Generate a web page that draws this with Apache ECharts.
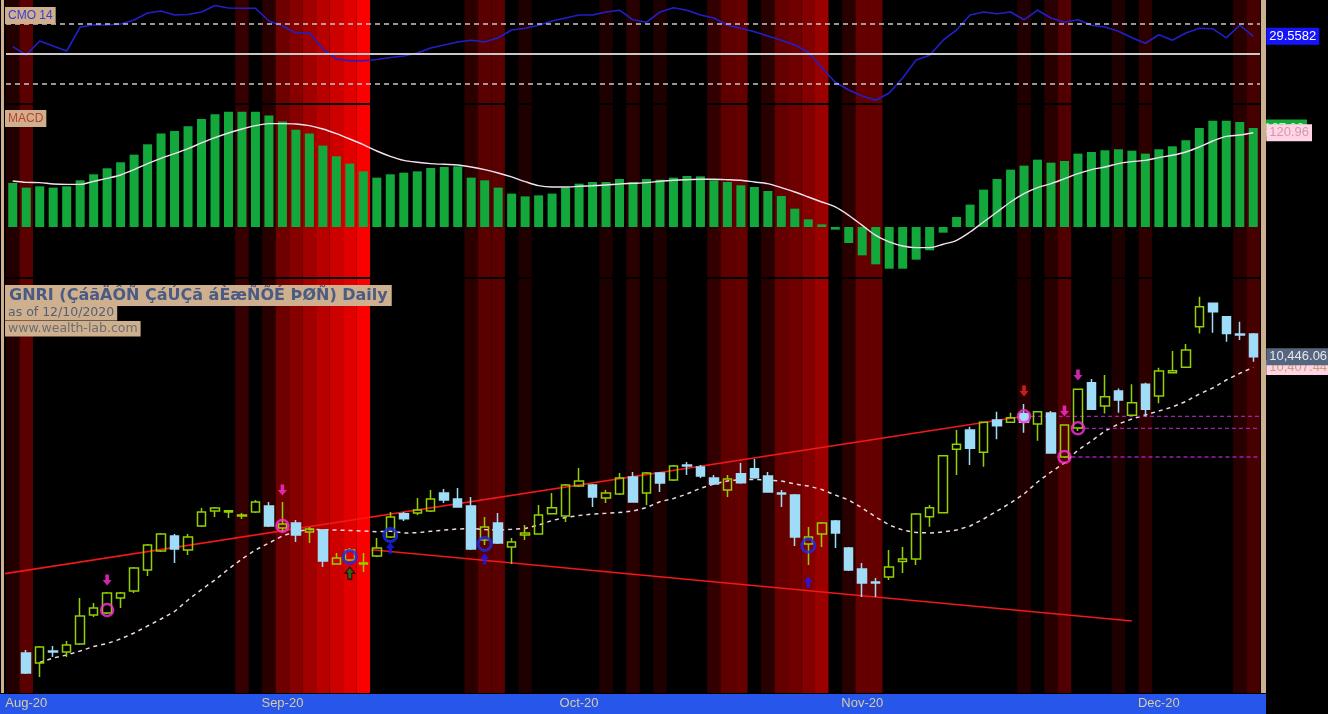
<!DOCTYPE html>
<html><head><meta charset="utf-8">
<script src="https://cdn.jsdelivr.net/npm/echarts@6/dist/echarts.min.js"></script>
<style>html,body{margin:0;padding:0;background:#000;}#c{width:1328px;height:714px;}</style>
</head><body><div id="c"></div>
<script>
// ---------- DATA ----------
const dates = [
'2020-07-29','2020-08-05','2020-08-06','2020-08-09','2020-08-10','2020-08-11','2020-08-12','2020-08-13','2020-08-16','2020-08-17',
'2020-08-18','2020-08-19','2020-08-20','2020-08-23','2020-08-24','2020-08-25','2020-08-26','2020-08-27','2020-08-30','2020-08-31',
'2020-09-01','2020-09-02','2020-09-03','2020-09-06','2020-09-07','2020-09-08','2020-09-09','2020-09-10','2020-09-13','2020-09-14',
'2020-09-15','2020-09-16','2020-09-17','2020-09-20','2020-09-21','2020-09-22','2020-09-23','2020-09-24','2020-09-27','2020-09-28',
'2020-09-29','2020-09-30','2020-10-01','2020-10-04','2020-10-05','2020-10-06','2020-10-07','2020-10-08','2020-10-11','2020-10-12',
'2020-10-13','2020-10-14','2020-10-15','2020-10-18','2020-10-19','2020-10-20','2020-10-21','2020-10-22','2020-10-25','2020-10-26',
'2020-10-27','2020-10-28','2020-10-29','2020-11-01','2020-11-02','2020-11-03','2020-11-04','2020-11-05','2020-11-08','2020-11-09',
'2020-11-10','2020-11-11','2020-11-12','2020-11-15','2020-11-16','2020-11-17','2020-11-18','2020-11-19','2020-11-22','2020-11-23',
'2020-11-24','2020-11-25','2020-11-26','2020-11-29','2020-11-30','2020-12-01','2020-12-02','2020-12-03','2020-12-06','2020-12-07',
'2020-12-08','2020-12-09','2020-12-10'];
const monthTickLabels = {'07':'Jul-20','08':'Aug-20','09':'Sep-20','10':'Oct-20','11':'Nov-20','12':'Dec-20'};

const open = [null,9379.2,9343.2,9386.4,9382.8,9411.6,9516,9523.2,9577.2,9602.4,
9678,9746.4,9800.4,9750,9836.4,9890.4,9886.8,9872.4,9886.8,9908.4,
9829.2,9847.2,9815,9822,9699.6,9714,9699.6,9728.4,9797,9880.6,
9883.4,9890.4,9955.4,9933.6,9908.6,9786,9847.4,9761,9804,9807.8,
9880.6,9872.6,9980.6,9984.2,9937.4,9951.8,10013,9955.4,10027.4,10002.2,
10056.2,10049,10009.4,9966,10024.6,10042.6,10016.6,9955.4,9948.2,9771.8,
9808,9854.6,9757.4,9681.8,9635,9653,9708.8,9717.8,9870,9884.5,
10112.7,10182,10102,10218,10210,10242,10203.8,10243.4,10085,10189.4,
10352.5,10268.6,10322.6,10235,10346.7,10304.6,10388.5,10408,10554,10638.3,
10590,10527.8,10527.8];
const close = [null,9307.2,9400.8,9382.8,9408,9512.4,9541.2,9595.2,9595.2,9685.2,
9768,9807.6,9753.6,9796.8,9886.8,9901.2,9891.5,9876,9922.8,9836.4,
9843.6,9804,9826,9710.4,9721.2,9750,9703.2,9757.2,9869,9862.8,
9894.2,9933.6,9930.2,9905,9753.8,9833,9775.4,9779,9811.4,9876.2,
9902.4,9984.2,9998.6,9941,9955.4,10009.4,9923,10027.4,9991.4,10052.6,
10052.6,10016.6,9987.8,10005.6,9992.2,10010.2,9959,9951.8,9797,9797,
9847.4,9811.4,9678,9631.4,9631.4,9689,9717.8,9879.8,9902.5,10089.7,
10130.7,10116.3,10210,10197.5,10226.5,10210,10248,10099.4,10200,10328.7,
10256.7,10302,10290.2,10280.5,10256.7,10394.6,10395.7,10470,10626,10608,
10530,10524,10446.06];
const low = [null,9303.6,9292.8,9364.8,9364.8,9408,9508.8,9519.6,9541.2,9595.2,
9656.4,9742.8,9703.2,9732,9832.8,9868.8,9865.2,9861.6,9883.2,9832.8,
9815.2,9779,9775,9689,9699.6,9710.4,9671,9725,9793,9854.6,
9876.2,9887,9919.4,9903,9750,9768,9771.8,9699.8,9786,9806,
9878.8,9851,9977,9905,9919.4,9948.2,9921.2,9912.2,9959,9998.6,
10020.2,10009.4,9984.2,9941,9988.6,10006.6,9957.2,9905,9764.6,9696,
9761,9757.4,9674.6,9581,9581,9642,9667.4,9696.2,9834,9882.3,
10020,10056,10050,10148.7,10207.4,10172.5,10143.7,10097.6,10081.4,10178.6,
10254,10242,10244.5,10232.6,10230,10278.3,10386.3,10405.4,10530,10532.5,
10500,10506,10428];
const high = [null,9390,9404.4,9404.4,9422.4,9577.2,9559.2,9598.8,9598.8,9688.8,
9771.6,9811.2,9807.6,9807.6,9901.2,9904.8,9892,9883.2,9930,9922.8,
9922.8,9858,9833,9825.6,9739.2,9757.2,9739.2,9793.2,9887,9887,
9937.4,9966,9969.8,9973.4,9941,9869,9883.4,9793,9840,9912.2,
9955.4,9987.8,10045.4,9987.8,9966,10027.4,10031,10031,10031,10056.2,
10067,10056.2,10020.2,10020.2,10063.4,10077.8,10031,9966,9951.8,9833,
9851,9858.2,9761,9703.4,9649.4,9750,9761,9883.4,9912,10092,
10182,10194,10211,10248,10244.5,10275.8,10250.6,10250.6,10200,10331,
10365.8,10380,10332,10346.7,10352.5,10406.5,10466.6,10491.8,10662,10639.4,
10592,10572,10531];
const sma = [null,null,9345.2,9361.4,9372.2,9386.6,9402.8,9413.6,9430,9451.4,
9476.6,9501.8,9528.8,9570.2,9608,9642.2,9681.8,9717.8,9750.2,9775.4,
9800.6,9816.8,9824,9823.3,9822.2,9820.4,9818.6,9816.1,9817.9,9811.4,
9812.5,9817.5,9822.2,9825.8,9827.6,9824,9822.2,9824.7,9827.6,9840.2,
9856.4,9867.2,9874.4,9879.8,9882.3,9885.2,9890.6,9903.2,9924.1,9935.6,
9951.8,9972.3,9987.8,9998.6,10004,10004,10002.2,9998.6,9987.8,9980.6,
9968,9948.2,9930.2,9901.4,9869,9840.2,9822.2,9813.2,9811.4,9815,
9822.2,9836.6,9861.8,9890.6,9919.4,9951.8,9995,10031,10063.4,10110.2,
10142.6,10178.6,10203.8,10221.8,10236.2,10250.6,10265,10284.8,10311.8,10333.4,
10362.2,10386.3,10407.44];
const cmo = [12.2,-1.7,21.7,13.3,5,45,48.3,48.3,50,56.7,
68.3,71.7,65,65.8,70,80.8,76.7,76.2,76.2,55,
46.7,35,35.5,8.3,-8.3,-11.2,-11.2,-9.2,-5.8,-3.3,
1.7,10,15,20,23,20,27,40,43,48,
55,60,65,65,70,73,57,53,70,77,
73,65,60,48,43,37,30,23,15,3,
-23,-47,-60,-70,-77,-65,-40,-10,-2,23,
40,65,70,67,70,57,73,60,53,57,
48,45,38,27,18,32,23,35,43,42,
27,48,29.5582];
const macd = [56.5,50.5,52.2,50.5,52.2,59.9,67.6,75.3,83,92.8,
106.1,119.8,123.2,129.2,138.6,144.6,148,148,148,142.9,
135.2,124.9,119.8,104.4,90.7,81.3,71.4,63.3,67.6,69.7,
71.4,75.7,77,77.8,63.3,59.9,50.5,42.8,39.3,40.6,
42.8,50.5,55.6,57.7,57.7,61.6,57.7,61.6,60.7,63.3,
65.4,65,59.9,57.7,53.5,51.3,46.2,39.8,23.5,9.8,
3.4,-3.4,-20.5,-36.4,-47.9,-53.5,-53.5,-41.9,-29.9,-7.3,
12.8,28.7,47.9,61.6,73.6,78.7,86.4,82.5,84.7,94.1,
96.2,98.4,99.7,97.9,94.1,99.7,103.5,111.2,127,136.4,
136.4,134.7,127];
const signal = [59,57.3,56.9,55.2,54.7,54.7,58.6,62.4,66.7,73.6,
81.3,88.1,94.1,100.5,107.8,114.6,120.6,125.7,130,132.6,
132.6,132.2,130,125.7,119.8,112.9,105.6,97.5,90.7,85.5,
83,81.3,80.4,79.6,77,73.6,69.3,64.2,58.2,53,
51.3,51.3,52.2,53,53.9,55.2,56,56.9,58.6,59.9,
60.7,61.2,61.2,60.7,59.9,57.7,55.6,50.5,44.9,38.5,
32.1,25.7,15,2.1,-10.7,-19.2,-24.4,-26.5,-26.5,-22.2,
-17.1,-6.4,6.4,19.2,32.1,42.8,50.5,55.6,62,68.4,
73.6,77,81.3,83.8,85.5,89,92,96.2,102.6,110.3,
116.3,118,120.96];
// background shading intensity per bar (red channel)
const bgRed = [35,90,0,0,0,0,0,0,0,0,
0,0,0,0,0,0,0,55,0,40,
110,135,160,185,205,225,250,0,0,0,
0,0,0,0,45,90,90,0,30,0,
0,0,0,0,30,0,40,0,30,0,
0,0,50,95,100,0,40,100,110,130,
155,0,40,100,100,0,0,0,0,0,
0,0,0,0,0,35,0,40,80,0,
0,0,30,0,45,0,0,0,0,0,
0,40,70];
const cmoLevels = [50, 0, -50];
const upperTrend = [[-1, 9662], [75, 10231.5]];
const lowerTrend = [[26.6, 9751], [83, 9494.6]];
const stopLevels = [[75, 10231.5], [78, 10085], [79, 10188.3]];
const pinkCircles = [[7, 9534], [20, 9837], [75, 10231.5], [78, 10085], [79, 10188.3]];
const blueCircles = [[25, 9725], [28, 9804], [35, 9772], [59, 9766]];
const pinkDownArrows = [[7, 9642], [20, 9966], [78, 10251], [79, 10380]];
const redDownArrows = [[75, 10323]];
const blueUpArrows = [[28, 9757], [35, 9718], [59, 9635]];
const greenUpArrows = [[25, 9667]];
const titleText = 'GNRI (ÇáãÄÔÑ ÇáÚÇã áÈæÑÕÉ ÞØÑ) Daily';
const asOfText = 'as of 12/10/2020';
const siteText = 'www.wealth-lab.com';

// ---------- CHART ----------
const N = dates.length;
const last = N - 1;
const candles = dates.map((d, i) => open[i] == null ? '-' : [open[i], close[i], low[i], high[i]]);
const ones = dates.map(() => 1);
const bgColor = r => r > 0 ? 'rgb(' + r + ',0,0)' : 'rgba(0,0,0,0)';
const isMonthStart = i => i > 0 && dates[i].slice(5, 7) !== dates[i - 1].slice(5, 7);
const fmt2 = v => Number(v).toLocaleString('en-US', {minimumFractionDigits: 2, maximumFractionDigits: 2});
const FONT = 'Liberation Sans';
const TFONT = 'DejaVu Sans';
const TAN = '#cfb08e';
const DOWN = 'path://M3,0H7V5H10L5,10L0,5H3Z';
const UP = 'path://M5,0L10,5H7V10H3V5H0Z';

function bgSeries(xi, yi) {
  return {type: 'bar', xAxisIndex: xi, yAxisIndex: yi, data: ones, barWidth: '100%', silent: true, z: 0,
    itemStyle: {color: p => bgColor(bgRed[p.dataIndex])}};
}
function markerSeries(data, symbol, size, style) {
  return {type: 'scatter', xAxisIndex: 2, yAxisIndex: 4, data: data, symbol: symbol, symbolSize: size,
    itemStyle: style, z: 8, silent: true};
}
function titleBox(text, top, size, weight, color, pad, family) {
  return {text: text, left: 5, top: top, padding: pad, backgroundColor: TAN, itemGap: 0,
    textStyle: {color: color, fontSize: size, fontWeight: weight, fontFamily: family, lineHeight: size + 3}};
}

const chart = echarts.init(document.getElementById('c'));
chart.setOption({
  animation: false,
  backgroundColor: '#000',
  title: [
    titleBox('CMO 14', 7, 12, 'normal', '#3b3bd0', [1, 3], FONT),
    titleBox('MACD', 110, 12, 'normal', '#c0402c', [1, 3], FONT),
    titleBox(titleText, 285, 16, 'bold', '#4a5b84', [1, 4], TFONT),
    titleBox(asOfText, 305, 12.5, 'normal', '#566078', [0, 3], TFONT),
    titleBox(siteText, 321, 12.5, 'normal', '#6c6c74', [0, 3], TFONT)
  ],
  grid: [
    {left: 6, width: 1254, top: 0, height: 103},
    {left: 6, width: 1254, top: 105, height: 172},
    {left: 6, width: 1254, top: 279, height: 414},
    {left: 0, width: 1266, top: 694, height: 20, show: true, backgroundColor: '#2656ea', borderWidth: 0}
  ],
  xAxis: [
    {gridIndex: 0, type: 'category', data: dates, show: false},
    {gridIndex: 1, type: 'category', data: dates, show: false},
    {gridIndex: 2, type: 'category', data: dates, z: 10,
      axisLine: {show: false}, axisTick: {show: false}, splitLine: {show: false},
      axisLabel: {interval: (i) => isMonthStart(i), formatter: v => monthTickLabels[v.slice(5, 7)],
        color: '#d9cba4', fontSize: 13, fontFamily: FONT, margin: 4}},
    {gridIndex: 2, type: 'value', min: -0.5, max: N - 0.5, show: false},
    {gridIndex: 3, type: 'value', show: false},
    {gridIndex: 0, type: 'category', data: dates, show: false},
    {gridIndex: 1, type: 'category', data: dates, show: false},
    {gridIndex: 2, type: 'category', data: dates, show: false}
  ],
  yAxis: [
    {gridIndex: 0, type: 'value', min: -81.67, max: 90, show: false},
    {gridIndex: 0, type: 'value', min: 0, max: 1, show: false},
    {gridIndex: 1, type: 'value', min: -64.15, max: 156.5, show: false},
    {gridIndex: 1, type: 'value', min: 0, max: 1, show: false},
    {gridIndex: 2, type: 'value', min: 9235.4, max: 10725.8, show: false},
    {gridIndex: 2, type: 'value', min: 0, max: 1, show: false},
    {gridIndex: 3, type: 'value', show: false}
  ],
  graphic: [
    {type: 'rect', left: 1, top: 0, shape: {width: 3, height: 693}, style: {fill: TAN}, z: 20},
    {type: 'rect', left: 1261, top: 0, shape: {width: 5, height: 693}, style: {fill: TAN}, z: 20}
  ],
  series: [
    bgSeries(5, 1), bgSeries(6, 3), bgSeries(7, 5),
    // CMO
    {type: 'line', xAxisIndex: 0, yAxisIndex: 0, data: cmo, symbol: 'none', z: 4,
      lineStyle: {color: '#2020c8', width: 1.6},
      endLabel: {show: true, distance: 13, formatter: p => Number(p.value).toFixed(4),
        backgroundColor: '#1414ff', color: '#ffffff', fontSize: 13, fontFamily: FONT, padding: [2, 3]},
      markLine: {silent: true, symbol: 'none', label: {show: false},
        data: cmoLevels.map(v => ({yAxis: v, lineStyle: {color: '#c8c8c8', width: v === 0 ? 2 : 1.5, type: v === 0 ? 'solid' : [5, 4]}}))}},
    // MACD histogram
    {type: 'bar', xAxisIndex: 1, yAxisIndex: 2, data: macd, barWidth: 9, z: 3,
      itemStyle: {color: '#12a83c'},
      markPoint: {symbol: 'rect', symbolSize: 0, silent: true,
        data: [{coord: [last, macd[last]], label: {show: true, position: 'right', distance: 8,
          formatter: fmt2(macd[last]), backgroundColor: '#12a83c', color: '#d0f0d0', fontSize: 13, fontFamily: FONT, padding: [2, 3]}}]}},
    // MACD signal
    {type: 'line', xAxisIndex: 1, yAxisIndex: 2, data: signal, symbol: 'none', smooth: 0.3, z: 6,
      lineStyle: {color: '#f2e2f0', width: 1.4},
      endLabel: {show: true, distance: 13, formatter: p => fmt2(p.value),
        backgroundColor: '#ffd4e4', color: '#d498ac', fontSize: 13, fontFamily: FONT, padding: [2, 3]}},
    // SMA dashed
    {type: 'line', xAxisIndex: 2, yAxisIndex: 4, data: sma, symbol: 'none', z: 4,
      lineStyle: {color: '#f0d8e2', width: 1.5, type: [4, 4]},
      endLabel: {show: true, distance: 13, formatter: p => fmt2(p.value),
        backgroundColor: '#ffd4e4', color: '#c8a078', fontSize: 13, fontFamily: FONT, padding: [1, 3]}},
    // trend lines
    {type: 'line', xAxisIndex: 3, yAxisIndex: 4, data: upperTrend, symbol: 'none', z: 5, lineStyle: {color: '#f01818', width: 1.6}},
    {type: 'line', xAxisIndex: 3, yAxisIndex: 4, data: lowerTrend, symbol: 'none', z: 5, lineStyle: {color: '#f01818', width: 1.6}},
    // stop levels (purple dashed to right edge)
    ...stopLevels.map(s => ({type: 'line', xAxisIndex: 3, yAxisIndex: 4, data: [s, [N - 0.5, s[1]]], symbol: 'none', z: 5,
      lineStyle: {color: '#a020b0', width: 1.3, type: [4, 3]}})),
    // candles
    {type: 'candlestick', xAxisIndex: 2, yAxisIndex: 4, data: candles, barWidth: 9, z: 7,
      itemStyle: {color: 'rgba(0,0,0,0)', color0: '#9edcf8', borderColor: '#92d000', borderColor0: '#9edcf8', borderWidth: 1.5},
      markPoint: {symbol: 'rect', symbolSize: 0, silent: true, z: 12,
        data: [{coord: [last, close[last]], label: {show: true, position: 'right', distance: 13,
          formatter: fmt2(close[last]), backgroundColor: '#56667e', color: '#e6e6ee', fontSize: 13, fontFamily: FONT, padding: [2, 3]}}]}},
    markerSeries(pinkCircles, 'circle', 12, {color: 'rgba(0,0,0,0)', borderColor: '#ff30d8', borderWidth: 2.5}),
    markerSeries(blueCircles, 'circle', 13, {color: 'rgba(0,0,0,0)', borderColor: '#1e2cf0', borderWidth: 3}),
    markerSeries(pinkDownArrows, DOWN, [9, 11], {color: '#ff30d8'}),
    markerSeries(redDownArrows, DOWN, [9, 11], {color: '#ff2020'}),
    markerSeries(blueUpArrows, UP, [9, 11], {color: '#1a1aff'}),
    markerSeries(greenUpArrows, UP, [10, 12], {color: '#0a7a22', borderColor: '#000', borderWidth: 1})
  ]
});
</script></body></html>
